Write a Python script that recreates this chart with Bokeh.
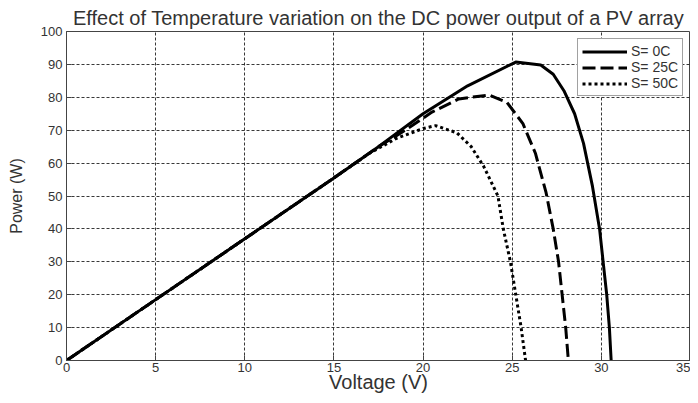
from bokeh.plotting import figure
from bokeh.models import Range1d, FixedTicker, Legend, LegendItem
from bokeh.embed import file_html
from bokeh.resources import INLINE

# ---- data ----
v_0c = [0, 5, 10, 15, 17.5, 20, 22.5, 25.2, 26.6, 27.3, 27.9, 28.5, 29.0, 29.5, 29.9, 30.1, 30.3, 30.45, 30.55]
p_0c = [0, 18.5, 37, 55.5, 65, 75, 83.5, 90.7, 89.8, 87, 82, 75, 66, 53, 40, 30, 20, 10, 0]

v_25c = [0, 5, 10, 15, 17.5, 19, 20.5, 22, 23.7, 24.7, 25.6, 26.3, 26.9, 27.3, 27.6, 27.8, 28.0, 28.15]
p_25c = [0, 18.5, 37, 55.5, 65, 70, 75.5, 79.5, 80.7, 78.5, 72, 63, 51, 40, 30, 20, 10, 0]

v_50c = [0, 5, 10, 15, 17, 18.5, 20, 20.7, 21.9, 22.7, 23.4, 24.2, 24.5, 24.9, 25.2, 25.5, 25.75]
p_50c = [0, 18.5, 37, 55.5, 63, 67.5, 70.5, 71.4, 69.2, 65, 59, 50, 40, 30, 20, 10, 0]

series_labels = ["S= 0C", "S= 25C", "S= 50C"]
x_ticks = [0, 5, 10, 15, 20, 25, 30, 35]
y_ticks = [0, 10, 20, 30, 40, 50, 60, 70, 80, 90, 100]

FONT = "Liberation Sans"
TXT = "#333333"

p = figure(width=690, height=395, output_backend="svg", toolbar_location=None,
           x_range=Range1d(0, 35), y_range=Range1d(0, 100),
           title="Effect of Temperature variation on the DC power output of a PV array",
           min_border_left=66, min_border_right=0, min_border_top=31, min_border_bottom=30)

p.background_fill_color = "white"
p.border_fill_color = "white"
p.outline_line_color = "#444444"
p.outline_line_width = 1

p.title.align = "center"
p.title.text_font = FONT
p.title.text_font_size = "20px"
p.title.text_font_style = "normal"
p.title.text_color = TXT
p.title.offset = 0
p.title.standoff = 6

for ax in (p.xaxis[0], p.yaxis[0]):
    ax.major_tick_in = 5
    ax.major_tick_out = 0
    ax.minor_tick_line_color = None
    ax.axis_line_color = "#444444"
    ax.major_tick_line_color = "#444444"
    ax.major_label_text_font = FONT
    ax.major_label_text_font_size = "13px"
    ax.major_label_text_color = TXT
    ax.axis_label_text_font = FONT
    ax.axis_label_text_font_style = "normal"
    ax.axis_label_text_color = TXT

p.xaxis[0].ticker = FixedTicker(ticks=x_ticks)
p.yaxis[0].ticker = FixedTicker(ticks=y_ticks)
p.xaxis[0].axis_label = "Voltage (V)"
p.yaxis[0].axis_label = "Power (W)"
p.xaxis[0].axis_label_text_font_size = "20px"
p.yaxis[0].axis_label_text_font_size = "16px"
p.xaxis[0].major_label_standoff = 2
p.yaxis[0].major_label_standoff = 4
p.xaxis[0].axis_label_standoff = -4
p.yaxis[0].axis_label_standoff = 13

p.xgrid.ticker = FixedTicker(ticks=x_ticks)
p.ygrid.ticker = FixedTicker(ticks=y_ticks)
for g in (p.xgrid[0], p.ygrid[0]):
    g.grid_line_color = "#222222"
    g.grid_line_dash = "3 2"
    g.grid_line_width = 1
    g.grid_line_alpha = 0.9

r0 = p.line(v_0c, p_0c, line_color="black", line_width=3, line_join="round")
r25 = p.line(v_25c, p_25c, line_color="black", line_width=3, line_dash="13 5")
r50 = p.line(v_50c, p_50c, line_color="black", line_width=3, line_dash="3 3")

legend = Legend(items=[LegendItem(label=series_labels[0], renderers=[r0]),
                       LegendItem(label=series_labels[1], renderers=[r25]),
                       LegendItem(label=series_labels[2], renderers=[r50])],
                location=(511, 264))
legend.label_text_font = FONT
legend.label_text_font_size = "14px"
legend.label_text_color = TXT
legend.glyph_width = 45
legend.glyph_height = 15
legend.label_height = 15
legend.label_standoff = 4
legend.spacing = 0
legend.padding = 4
legend.margin = 0
legend.border_line_color = "#444444"
legend.border_line_width = 1
legend.background_fill_color = "white"
legend.background_fill_alpha = 1
p.add_layout(legend)

open("out.html", "w").write(file_html(p, INLINE))
